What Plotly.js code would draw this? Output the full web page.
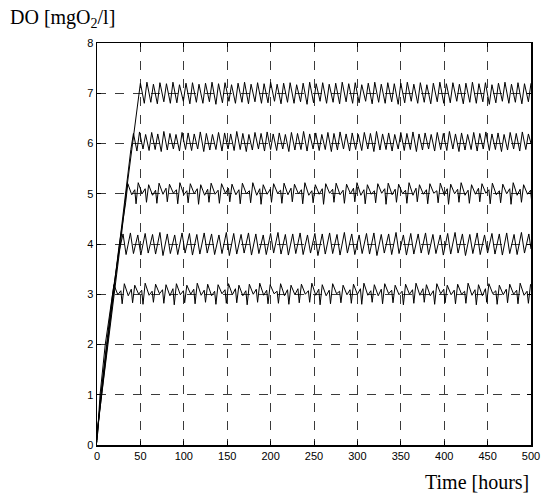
<!DOCTYPE html>
<html>
<head>
<meta charset="utf-8">
<script src="https://cdn.plot.ly/plotly-3.0.1.min.js"></script>
<style>html,body{margin:0;padding:0;background:#fff;}#chart{width:543px;height:493px;}</style>
</head>
<body>
<div id="chart"></div>
<script>
// Tick labels
const xTickVals = [0,50,100,150,200,250,300,350,400,450,500];
const yTickVals = [0,1,2,3,4,5,6,7,8];

// Series: DO setpoint 7 mg/l
const t7 = [0,5.5,13,20,27,33.5,40,
47,50,54.5,57.5,62,65,69.5,72.5,77,80,84.5,87.5,92,95,99.5,102.5,107,110,114.5,117.5,122,125,129.5,132.5,137,140,144.5,147.5,152,155,159.5,162.5,167,170,174.5,177.5,182,185,189.5,192.5,197,200,204.5,207.5,212,215,219.5,222.5,227,230,234.5,237.5,242,245,249.5,252.5,257,260,264.5,267.5,272,275,279.5,282.5,287,290,294.5,297.5,302,305,309.5,312.5,317,320,324.5,327.5,332,335,339.5,342.5,347,350,354.5,357.5,362,365,369.5,372.5,377,380,384.5,387.5,392,395,399.5,402.5,407,410,414.5,417.5,422,425,429.5,432.5,437,440,444.5,447.5,452,455,459.5,462.5,467,470,474.5,477.5,482,485,489.5,492.5,497,500];
const v7 = [0.25,1.0,2.0,3.0,4.0,5.0,5.9,
6.85,7.20, 6.80,7.22, 6.82,7.18, 6.79,7.21, 6.83,7.19, 6.80,7.22, 6.81,7.17, 6.84,7.20, 6.79,7.21, 6.82,7.18,
6.80,7.20, 6.83,7.22, 6.78,7.19, 6.81,7.21, 6.84,7.17, 6.80,7.20, 6.82,7.22, 6.79,7.18, 6.83,7.21, 6.80,7.19,
6.81,7.22, 6.84,7.18, 6.79,7.20, 6.82,7.21, 6.80,7.17, 6.83,7.20, 6.78,7.22, 6.81,7.19, 6.84,7.21, 6.80,7.18,
6.82,7.20, 6.79,7.22, 6.83,7.19, 6.80,7.21, 6.81,7.17, 6.84,7.20, 6.79,7.22, 6.82,7.18, 6.80,7.21, 6.83,7.19,
6.78,7.20, 6.81,7.22, 6.84,7.18, 6.80,7.21, 6.82,7.17, 6.79,7.20, 6.83,7.22, 6.80,7.19, 6.81,7.21, 6.84,7.18,
6.79,7.20, 6.82,7.22, 6.80,7.19, 6.83,7.21, 6.78,7.17, 6.81,7.20, 6.84,7.22, 6.80,7.18, 6.82,7.21, 6.79,7.19,
6.83,7.20];

// Series: DO setpoint 6 mg/l
const t6 = [0,5,12,19,26,32,
39,42,46,49,53,56,60,63,67,70,74,77,81,84,88,91,95,98,102,105,109,112,116,119,123,126,130,133,137,140,144,147,151,154,158,161,165,168,172,175,179,182,186,189,193,196,200,203,207,210,214,217,221,224,228,231,235,238,242,245,249,252,256,259,263,266,270,273,277,280,284,287,291,294,298,301,305,308,312,315,319,322,326,329,333,336,340,343,347,350,354,357,361,364,368,371,375,378,382,385,389,392,396,399,403,406,410,413,417,420,424,427,431,434,438,441,445,448,452,455,459,462,466,469,473,476,480,483,487,490,494,497,500];
const v6 = [0.2,1.0,2.0,3.0,4.0,4.9,
5.88,6.20, 5.85,6.23, 5.89,6.18, 5.86,6.22, 5.88,6.19, 5.84,6.24, 5.87,6.20, 5.89,6.18, 5.85,6.22, 5.88,6.21,
5.86,6.19, 5.89,6.23, 5.84,6.20, 5.87,6.18, 5.88,6.22, 5.85,6.21, 5.89,6.19, 5.86,6.24, 5.88,6.20, 5.84,6.18,
5.87,6.22, 5.89,6.20, 5.85,6.23, 5.88,6.19, 5.86,6.21, 5.89,6.18, 5.84,6.22, 5.87,6.20, 5.88,6.24, 5.85,6.19,
5.89,6.21, 5.86,6.18, 5.88,6.22, 5.84,6.20, 5.87,6.23, 5.89,6.19, 5.85,6.21, 5.88,6.18, 5.86,6.22, 5.89,6.20,
5.84,6.24, 5.87,6.19, 5.88,6.21, 5.85,6.18, 5.89,6.22, 5.86,6.20, 5.88,6.23, 5.84,6.19, 5.87,6.21, 5.89,6.18,
5.85,6.22, 5.88,6.20, 5.86,6.24, 5.89,6.19, 5.84,6.21, 5.87,6.18, 5.88,6.22, 5.85,6.20, 5.89,6.23, 5.86,6.19,
5.88,6.21, 5.84,6.18, 5.87,6.22, 5.89,6.20, 5.85,6.23, 5.88,6.19,
6.00];

// Series: DO setpoint 5 mg/l
const t5 = [0,4.5,11.5,18.5,25,
33,35.5,40,43.5, 45,47.5,52,55.5, 57,59.5,64,67.5, 69,71.5,76,79.5, 81,83.5,88,91.5, 93,95.5,100,103.5, 105,107.5,112,115.5, 117,119.5,124,127.5, 129,131.5,136,139.5, 141,143.5,148,151.5,
153,155.5,160,163.5, 165,167.5,172,175.5, 177,179.5,184,187.5, 189,191.5,196,199.5, 201,203.5,208,211.5, 213,215.5,220,223.5, 225,227.5,232,235.5, 237,239.5,244,247.5, 249,251.5,256,259.5, 261,263.5,268,271.5,
273,275.5,280,283.5, 285,287.5,292,295.5, 297,299.5,304,307.5, 309,311.5,316,319.5, 321,323.5,328,331.5, 333,335.5,340,343.5, 345,347.5,352,355.5, 357,359.5,364,367.5, 369,371.5,376,379.5, 381,383.5,388,391.5,
393,395.5,400,403.5, 405,407.5,412,415.5, 417,419.5,424,427.5, 429,431.5,436,439.5, 441,443.5,448,451.5, 453,455.5,460,463.5, 465,467.5,472,475.5, 477,479.5,484,487.5, 489,491.5,496,499.5,
501];
const v5 = [0.15,1.0,2.0,3.0,3.9,
4.82,5.20,4.98,5.08, 4.80,5.22,5.00,5.10, 4.83,5.18,4.97,5.07, 4.81,5.21,4.99,5.11, 4.84,5.19,5.01,5.08, 4.80,5.22,4.98,5.06, 4.82,5.20,5.00,5.10, 4.79,5.18,4.97,5.09, 4.83,5.21,4.99,5.07, 4.81,5.20,5.01,5.11,
4.84,5.19,4.98,5.08, 4.80,5.21,5.00,5.06, 4.82,5.22,4.97,5.10, 4.79,5.18,4.99,5.09, 4.83,5.20,5.01,5.07, 4.81,5.21,4.98,5.11, 4.84,5.19,5.00,5.08, 4.80,5.22,4.97,5.06, 4.82,5.18,4.99,5.10, 4.79,5.20,5.01,5.09,
4.83,5.21,4.98,5.07, 4.81,5.19,5.00,5.11, 4.84,5.22,4.97,5.08, 4.80,5.18,4.99,5.06, 4.82,5.20,5.01,5.10, 4.79,5.21,4.98,5.09, 4.83,5.19,5.00,5.07, 4.81,5.22,4.97,5.11, 4.84,5.18,4.99,5.08, 4.80,5.20,5.01,5.06,
4.82,5.21,4.98,5.10, 4.79,5.19,5.00,5.09, 4.83,5.22,4.97,5.07, 4.81,5.18,4.99,5.11, 4.84,5.20,5.01,5.08, 4.80,5.21,4.98,5.06, 4.82,5.19,5.00,5.10, 4.79,5.22,4.97,5.09, 4.83,5.18,4.99,5.07,
4.81];

// Series: DO setpoint 4 mg/l
const t4 = [0,4.5,11,18,
25,30,33.5,38.5,42,47,50.5,55.5,59,64,67.5,72.5,76,81,84.5,89.5,93,98,101.5,106.5,110,115,118.5,123.5,127,132,135.5,140.5,144,149,152.5,157.5,161,166,169.5,174.5,178,183,186.5,191.5,195,200,203.5,208.5,212,217,220.5,225.5,229,234,237.5,242.5,246,251,254.5,259.5,263,268,271.5,276.5,280,285,288.5,293.5,297,302,305.5,310.5,314,319,322.5,327.5,331,336,339.5,344.5,348,353,356.5,361.5,365,370,373.5,378.5,382,387,390.5,395.5,399,404,407.5,412.5,416,421,424.5,429.5,433,438,441.5,446.5,450,455,458.5,463.5,467,472,475.5,480.5,484,489,492.5,497.5,500];
const v4 = [0.1,1.0,2.0,3.0,
3.82,4.20, 3.79,4.22, 3.81,4.18, 3.78,4.21, 3.82,4.19, 3.80,4.23, 3.77,4.20, 3.81,4.18, 3.79,4.22, 3.82,4.21,
3.78,4.19, 3.80,4.22, 3.82,4.20, 3.79,4.18, 3.81,4.23, 3.77,4.21, 3.80,4.19, 3.82,4.22, 3.78,4.20, 3.81,4.18,
3.79,4.21, 3.82,4.23, 3.80,4.19, 3.78,4.20, 3.81,4.22, 3.79,4.18, 3.82,4.21, 3.77,4.20, 3.80,4.22, 3.81,4.19,
3.78,4.23, 3.82,4.20, 3.79,4.18, 3.81,4.21, 3.80,4.22, 3.77,4.19, 3.82,4.20, 3.79,4.23, 3.81,4.18, 3.78,4.21,
3.80,4.20, 3.82,4.22, 3.79,4.19, 3.81,4.18, 3.78,4.21, 3.80,4.23, 3.82,4.20, 3.77,4.19, 3.81,4.22, 3.79,4.18,
3.82,4.21, 3.80,4.20, 3.78,4.22, 3.81,4.19, 3.79,4.23, 3.82,4.20,
3.90];

// Series: DO setpoint 3 mg/l
const t3 = [0,3.5,9.5,
17,19.5,24,27.5, 29,31.5,36,39.5, 41,43.5,48,51.5, 53,55.5,60,63.5, 65,67.5,72,75.5, 77,79.5,84,87.5, 89,91.5,96,99.5, 101,103.5,108,111.5, 113,115.5,120,123.5, 125,127.5,132,135.5,
137,139.5,144,147.5, 149,151.5,156,159.5, 161,163.5,168,171.5, 173,175.5,180,183.5, 185,187.5,192,195.5, 197,199.5,204,207.5, 209,211.5,216,219.5, 221,223.5,228,231.5, 233,235.5,240,243.5, 245,247.5,252,255.5,
257,259.5,264,267.5, 269,271.5,276,279.5, 281,283.5,288,291.5, 293,295.5,300,303.5, 305,307.5,312,315.5, 317,319.5,324,327.5, 329,331.5,336,339.5, 341,343.5,348,351.5, 353,355.5,360,363.5, 365,367.5,372,375.5,
377,379.5,384,387.5, 389,391.5,396,399.5, 401,403.5,408,411.5, 413,415.5,420,423.5, 425,427.5,432,435.5, 437,439.5,444,447.5, 449,451.5,456,459.5, 461,463.5,468,471.5, 473,475.5,480,483.5, 485,487.5,492,495.5,
497,499.5];
const v3 = [0.05,1.0,2.0,
2.85,3.19,2.99,3.07, 2.81,3.21,2.97,3.10, 2.83,3.18,3.00,3.08, 2.80,3.22,2.98,3.06, 2.84,3.20,3.01,3.09, 2.82,3.19,2.97,3.11, 2.79,3.21,2.99,3.07, 2.83,3.18,3.00,3.10, 2.81,3.22,2.98,3.08, 2.84,3.20,2.97,3.06,
2.80,3.19,3.01,3.09, 2.82,3.21,2.99,3.11, 2.83,3.18,2.97,3.07, 2.79,3.20,3.00,3.10, 2.84,3.22,2.98,3.08, 2.81,3.19,3.01,3.06, 2.82,3.21,2.97,3.09, 2.80,3.18,2.99,3.11, 2.83,3.20,3.00,3.07, 2.84,3.22,2.98,3.10,
2.79,3.19,2.97,3.08, 2.81,3.21,3.01,3.06, 2.83,3.18,2.99,3.09, 2.82,3.20,3.00,3.11, 2.80,3.22,2.98,3.07, 2.84,3.19,2.97,3.10, 2.81,3.21,3.01,3.08, 2.83,3.18,2.99,3.06, 2.79,3.20,3.00,3.09, 2.82,3.22,2.98,3.11,
2.84,3.19,2.97,3.07, 2.80,3.21,3.01,3.10, 2.83,3.18,2.99,3.08, 2.81,3.20,3.00,3.06, 2.82,3.22,2.98,3.09, 2.79,3.19,2.97,3.11, 2.84,3.21,3.01,3.07, 2.80,3.18,2.99,3.10, 2.83,3.20,3.00,3.08, 2.81,3.22,2.98,3.06,
2.82,3.20];

const series = [[t7,v7],[t6,v6],[t5,v5],[t4,v4],[t3,v3]];

const traces = series.map(([t,v]) => ({
  x: t, y: v, type: 'scatter', mode: 'lines',
  line: {color: '#000', width: 1}, hoverinfo: 'skip', showlegend: false
}));

const axisCommon = {
  showline: true, linecolor: '#000', linewidth: 1.5, mirror: 'ticks',
  ticks: 'inside', ticklen: 4, tickcolor: '#000', tickwidth: 1,
  showgrid: true, gridcolor: '#3a3a3a', gridwidth: 1, griddash: 'dash',
  zeroline: false,
  tickfont: {family: 'Liberation Sans, Arial, sans-serif', size: 11, color: '#000'},
  fixedrange: true
};

const layout = {
  width: 543, height: 493,
  margin: {l: 97, r: 12, t: 43, b: 48, pad: 0},
  paper_bgcolor: '#fff', plot_bgcolor: '#fff',
  xaxis: Object.assign({}, axisCommon, {range: [0, 500], tickvals: xTickVals, ticktext: xTickVals.map(String)}),
  yaxis: Object.assign({}, axisCommon, {range: [0, 8], tickvals: yTickVals, ticktext: yTickVals.map(String)}),
  annotations: [
    {text: 'DO [mgO<sub>2</sub>/l]', xref: 'paper', yref: 'paper', x: -0.205, y: 1.062,
     xanchor: 'left', yanchor: 'middle', showarrow: false,
     font: {family: 'Liberation Serif, Times New Roman, serif', size: 20, color: '#000'}},
    {text: 'Time [hours]', xref: 'paper', yref: 'paper', x: 1, y: -0.092,
     xanchor: 'right', yanchor: 'middle', showarrow: false,
     font: {family: 'Liberation Serif, Times New Roman, serif', size: 20, color: '#000'}}
  ]
};

Plotly.newPlot('chart', traces, layout, {staticPlot: true, displayModeBar: false});
</script>
</body>
</html>
